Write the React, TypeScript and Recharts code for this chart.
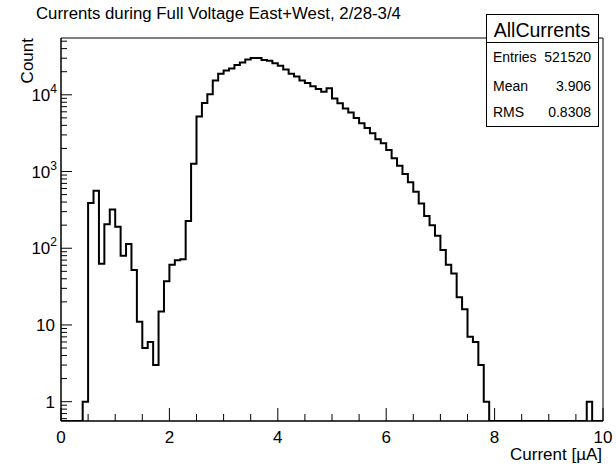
import { LineChart, Line, XAxis, YAxis, ReferenceArea } from "recharts";

// bin lower edges step 0.1 from 0 to 9.9, counts per bin
const BIN_STARTS = [
  0.0, 0.1, 0.2, 0.3, 0.4, 0.5, 0.6, 0.7, 0.8, 0.9,
  1.0, 1.1, 1.2, 1.3, 1.4, 1.5, 1.6, 1.7, 1.8, 1.9,
  2.0, 2.1, 2.2, 2.3, 2.4, 2.5, 2.6, 2.7, 2.8, 2.9,
  3.0, 3.1, 3.2, 3.3, 3.4, 3.5, 3.6, 3.7, 3.8, 3.9,
  4.0, 4.1, 4.2, 4.3, 4.4, 4.5, 4.6, 4.7, 4.8, 4.9,
  5.0, 5.1, 5.2, 5.3, 5.4, 5.5, 5.6, 5.7, 5.8, 5.9,
  6.0, 6.1, 6.2, 6.3, 6.4, 6.5, 6.6, 6.7, 6.8, 6.9,
  7.0, 7.1, 7.2, 7.3, 7.4, 7.5, 7.6, 7.7, 7.8, 7.9,
  8.0, 8.1, 8.2, 8.3, 8.4, 8.5, 8.6, 8.7, 8.8, 8.9,
  9.0, 9.1, 9.2, 9.3, 9.4, 9.5, 9.6, 9.7, 9.8, 9.9,
];
const COUNTS = [
  0, 0, 0, 0, 1, 390, 560, 63, 205, 320,
  190, 80, 114, 52, 11, 5, 6, 3, 15, 37,
  61, 70, 72, 227, 1260, 5200, 7800, 10200, 15400, 18800,
  20800, 22100, 24400, 26400, 28900, 30200, 30200, 28400, 27700, 25700,
  23900, 21400, 18800, 17300, 15400, 14200, 12900, 11900, 11000, 12200,
  8950, 7780, 6620, 5870, 5000, 4260, 3700, 3160, 2640, 2340,
  1910, 1490, 1190, 927, 722, 545, 384, 264, 200, 145,
  95, 61, 47, 23, 16, 7, 6, 3, 1, 0,
  0, 0, 0, 0, 0, 0, 0, 0, 0, 0,
  0, 0, 0, 0, 0, 0, 0, 1, 0, 0,
];
const X_MAX = 10;

const X_TICKS = [
  0, 0.5, 1, 1.5, 2, 2.5, 3, 3.5, 4, 4.5, 5,
  5.5, 6, 6.5, 7, 7.5, 8, 8.5, 9, 9.5, 10,
];
const X_LABELS = [0, 2, 4, 6, 8, 10];

const Y_MIN = 0.56;
const Y_MAX = 55000;
const Y_TICKS = [
  0.6, 0.7, 0.8, 0.9,
  1, 2, 3, 4, 5, 6, 7, 8, 9,
  10, 20, 30, 40, 50, 60, 70, 80, 90,
  100, 200, 300, 400, 500, 600, 700, 800, 900,
  1000, 2000, 3000, 4000, 5000, 6000, 7000, 8000, 9000,
  10000, 20000, 30000, 40000, 50000,
];

const FONT = "'Liberation Sans', Arial, Helvetica, sans-serif";

// log axis can't show 0, so empty bins sit on the bottom edge
const data = BIN_STARTS.map((x, i) => ({ x, count: Math.max(COUNTS[i], Y_MIN) }));
data.push({ x: X_MAX, count: Math.max(COUNTS[COUNTS.length - 1], Y_MIN) });

function XTick(props: any) {
  const { x, y, payload } = props;
  const v = payload.value;
  const major = X_LABELS.includes(v);
  return (
    <g>
      <line x1={x} x2={x} y1={y} y2={y - (major ? 13 : 7)} stroke="#000" strokeWidth={1} />
      {major && (
        <text x={x} y={y + 22} textAnchor="middle" fontSize={17} fontFamily={FONT} fill="#000">
          {v}
        </text>
      )}
    </g>
  );
}

function YTick(props: any) {
  const { x, y, payload } = props;
  const v = payload.value;
  const e = Math.log10(v);
  const major = Math.abs(e - Math.round(e)) < 1e-6;
  const p = Math.round(e);
  return (
    <g>
      <line x1={x} x2={x + (major ? 11 : 6)} y1={y} y2={y} stroke="#000" strokeWidth={1} />
      {major && (
        <text x={x - (p > 1 ? 4 : 6)} y={y + 6} textAnchor="end" fontSize={17} fontFamily={FONT} fill="#000">
          {p === 0 ? "1" : p === 1 ? "10" : (
            <>
              <tspan>10</tspan>
              <tspan dy={-8} fontSize={12}>{p}</tspan>
            </>
          )}
        </text>
      )}
    </g>
  );
}

export default function App() {
  return (
    <div style={{ position: "absolute", left: 0, top: 0, width: 616, height: 472, background: "#fff" }}>
      <LineChart width={616} height={472} data={data} margin={{ top: 38, right: 13, bottom: 0, left: 0 }}>
        <XAxis
          dataKey="x"
          type="number"
          domain={[0, X_MAX]}
          ticks={X_TICKS}
          interval={0}
          height={51}
          tickSize={0}
          tickMargin={0}
          tickLine={false}
          tick={XTick}
          axisLine={{ stroke: "#000" }}
        />
        <YAxis
          type="number"
          scale="log"
          domain={[Y_MIN, Y_MAX]}
          allowDataOverflow
          ticks={Y_TICKS}
          interval={0}
          width={61}
          tickSize={0}
          tickMargin={0}
          tickLine={false}
          tick={YTick}
          axisLine={{ stroke: "#000" }}
        />
        <ReferenceArea x1={0} x2={X_MAX} y1={Y_MIN} y2={Y_MAX} fill="none" fillOpacity={0} stroke="#000" strokeWidth={1} />
        <Line
          dataKey="count"
          type="stepAfter"
          stroke="#000"
          strokeWidth={2}
          dot={false}
          isAnimationActive={false}
        />
      </LineChart>
      <svg width={616} height={472} style={{ position: "absolute", left: 0, top: 0, pointerEvents: "none" }} fontFamily={FONT}>
        <text x={36} y={18.5} fontSize={16.8} fill="#000">
          Currents during Full Voltage East+West, 2/28-3/4
        </text>
        <text x={33} y={38} fontSize={17} fill="#000" textAnchor="end" transform="rotate(-90 33 38)">
          Count
        </text>
        <text x={602} y={460} fontSize={17} fill="#000" textAnchor="end">
          Current [µA]
        </text>
        <rect x={486.5} y={14.5} width={112} height={112} fill="#fff" stroke="#000" />
        <line x1={486.5} x2={598.5} y1={42.5} y2={42.5} stroke="#000" />
        <text x={542} y={37} fontSize={19.5} textAnchor="middle" fill="#000">AllCurrents</text>
        <text x={493} y={62} fontSize={14} fill="#000">Entries</text>
        <text x={591} y={62} fontSize={14} textAnchor="end" fill="#000">521520</text>
        <text x={493} y={91} fontSize={14} fill="#000">Mean</text>
        <text x={591} y={91} fontSize={14} textAnchor="end" fill="#000">3.906</text>
        <text x={493} y={117} fontSize={14} fill="#000">RMS</text>
        <text x={591} y={117} fontSize={14} textAnchor="end" fill="#000">0.8308</text>
      </svg>
    </div>
  );
}
